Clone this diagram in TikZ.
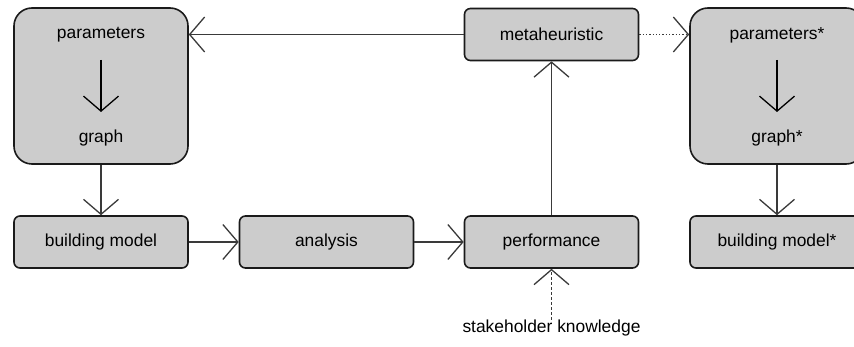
\documentclass[tikz,border=0pt]{standalone}
\usepackage{fontspec}
\setmainfont{Liberation Sans}
\usepackage{xcolor}
\definecolor{FlowFill}{HTML}{CCCCCC}
\definecolor{FlowEdge}{HTML}{1A1A1A}
\definecolor{FlowLine}{HTML}{3A3A3A}
\usepackage{tikz}
\usetikzlibrary{arrows.meta,positioning,calc}

\begin{document}
\begin{tikzpicture}[x=1pt,y=-1pt,
  font=\fontsize{17.4}{20}\selectfont,
  stage/.style={draw=FlowEdge,fill=FlowFill,line width=1.6pt,rounded corners=6pt,
    minimum width=174pt,minimum height=52pt,inner sep=0pt},
  group/.style={stage,rounded corners=18pt,minimum height=156pt},
  flow/.style={draw=FlowLine,line width=1.3pt,-{Straight Barb[length=15pt,width=35pt]}}]
  \useasboundingbox (0,0) rectangle (854,347);
  \clip (0,0) rectangle (854,347);
  % parameter groups
  \foreach \g/\x/\s in {pg/101/,pgs/777/*}{
    \node[group] (\g) at (\x,86) {};
    \node (\g par) at (\x,35) {parameters\s};
    \node (\g gr) at (\x,138) {graph\s};
    \coordinate (\g top) at (\x,60);
    \coordinate (\g bot) at (\x,112);
    \draw[flow,draw=black] (\g top) -- (\g bot);
  }
  % pipeline
  \foreach \n/\x/\lab in {bm/101/building model,an/326.5/analysis,pf/551.5/performance,bms/777/building model*}{
    \node[stage] (\n) at (\x,242) {\lab};
  }
  \node[stage] (mh) at (551.5,34.5) {metaheuristic};
  \node[inner sep=0pt,anchor=north] (sk) at (551.5,320) {stakeholder knowledge};
  \draw[flow] (pg) -- (bm);
  \draw[flow] (pgs) -- (bms);
  \draw[flow] (bm) -- (an);
  \draw[flow] (an) -- (pf);
  \draw[flow] (pf) -- (mh);
  \draw[flow] (mh.west) -- (mh.west -| pg.east);
  \draw[flow,dotted] (mh.east) -- (mh.east -| pgs.west);
  \draw[flow,dash pattern=on 3pt off 2pt] (sk) -- (pf);
\end{tikzpicture}
\end{document}
